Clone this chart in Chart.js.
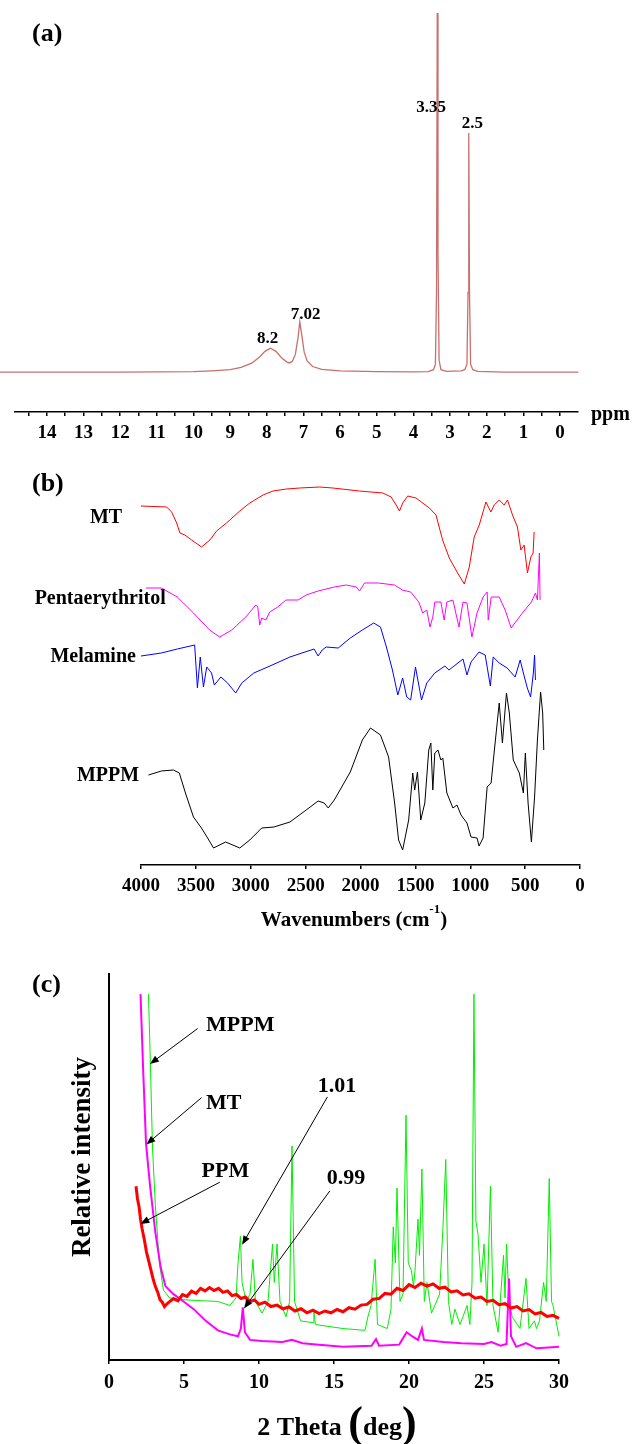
<!DOCTYPE html>
<html>
<head>
<meta charset="utf-8">
<script src="https://cdn.jsdelivr.net/npm/chart.js@4.4.1/dist/chart.umd.min.js"></script>
<style>
  html, body { margin: 0; padding: 0; background: #fff; }
  canvas { display: block; }
</style>
</head>
<body>
<canvas id="nmr" width="632" height="450"></canvas>
<canvas id="ftir" width="632" height="490"></canvas>
<canvas id="xrd" width="632" height="504"></canvas>
<script>
// ---- (a) 1H NMR ----
const nmrPpm = [15.28, 12, 10, 9.5, 9, 8.7, 8.4, 8.2, 8.05, 7.9, 7.75, 7.6, 7.45, 7.38, 7.3, 7.22, 7.15, 7.1, 7.05, 6.98, 6.9, 6.75, 6.5, 6.0, 5.0, 4.0, 3.6, 3.45, 3.4, 3.37, 3.35, 3.33, 3.3, 3.25, 3.1, 2.7, 2.6, 2.54, 2.51, 2.49, 2.47, 2.44, 2.38, 2.25, 1.5, -0.5];
const nmrInt = [10, 10, 10.1, 10.3, 10.6, 11.2, 12.3, 13.8, 15.2, 16.0, 15.2, 13.6, 12.5, 12.3, 12.7, 14.5, 18.5, 22.6, 19.5, 15, 12.8, 11.4, 10.7, 10.3, 10.1, 10.05, 10.1, 10.6, 12, 30, 100, 40, 13, 10.6, 10.2, 10.3, 10.6, 12, 30, 69.9, 30, 12, 10.6, 10.2, 10, 10];
const nmrPeakText = ['8.2', '7.02', '3.35', '2.5'];
const nmrPeakAt = [7.98, 6.94, 3.52, 2.39];
const nmrPeakH = [18.5, 24.3, 76.2, 72.2];

// ---- (b) FTIR ----
const ftirTicks = [4000, 3500, 3000, 2500, 2000, 1500, 1000, 500, 0];
const mtWn = [4000, 3766, 3721, 3675, 3645, 3600, 3539, 3448, 3372, 3311, 3221, 3100, 3009, 2963, 2888, 2797, 2675, 2554, 2372, 2252, 2009, 1797, 1721, 1675, 1645, 1615, 1570, 1494, 1373, 1312, 1252, 1191, 1115, 1054, 1009, 964, 918, 857, 812, 782, 736, 691, 661, 615, 570, 539, 509, 479, 448, 427, 418];
const mtT = [359, 358, 353, 342, 332, 330, 325, 318, 325, 334, 342, 354, 362, 365, 370, 374, 376, 377, 378, 377, 374, 372, 368, 360, 354, 362, 369, 367, 357, 350, 325, 307, 292, 281, 298, 328, 340, 363, 353, 360, 365, 360, 365, 350, 338, 315, 320, 292, 308, 312, 333];
const peWn = [3954, 3815, 3669, 3522, 3375, 3283, 3173, 3045, 2954, 2936, 2918, 2900, 2863, 2827, 2754, 2679, 2569, 2495, 2386, 2239, 2129, 2037, 2009, 1963, 1836, 1691, 1618, 1543, 1469, 1433, 1396, 1367, 1341, 1323, 1268, 1238, 1213, 1158, 1103, 1066, 1030, 985, 938, 883, 846, 836, 809, 736, 682, 627, 573, 518, 443, 406, 388, 370, 364];
const peT = [277, 277, 268, 252, 235, 228, 235, 248, 260, 258, 240, 247, 245, 253, 258, 265, 265, 270, 274, 278, 280, 278, 274, 282, 282, 280, 275, 273, 263, 252, 255, 238, 248, 263, 263, 245, 263, 265, 238, 263, 262, 228, 252, 268, 273, 245, 268, 268, 255, 237, 245, 253, 263, 272, 265, 312, 265];
const melWn = [4000, 3815, 3669, 3511, 3486, 3460, 3431, 3401, 3357, 3332, 3272, 3211, 3137, 3082, 2972, 2825, 2643, 2423, 2386, 2349, 2313, 2203, 2093, 1983, 1880, 1818, 1764, 1709, 1660, 1616, 1579, 1543, 1499, 1444, 1396, 1323, 1231, 1194, 1066, 1030, 993, 920, 864, 817, 791, 736, 664, 591, 545, 516, 480, 450, 425, 414, 406];
const melT = [209, 212, 216, 220, 177, 208, 178, 198, 192, 180, 188, 182, 172, 182, 192, 199, 208, 216, 209, 215, 218, 217, 227, 235, 242, 238, 218, 195, 170, 187, 168, 165, 198, 165, 182, 192, 199, 195, 206, 190, 203, 213, 210, 179, 208, 202, 197, 188, 205, 192, 177, 168, 192, 210, 185];
const mppmWn = [3932, 3815, 3705, 3651, 3595, 3522, 3449, 3393, 3339, 3229, 3100, 3009, 2900, 2789, 2643, 2495, 2386, 2331, 2294, 2239, 2093, 1983, 1909, 1818, 1744, 1689, 1653, 1616, 1561, 1524, 1506, 1481, 1451, 1414, 1378, 1359, 1341, 1323, 1294, 1268, 1250, 1213, 1158, 1121, 1084, 1030, 993, 938, 920, 883, 846, 810, 780, 736, 707, 670, 644, 608, 553, 516, 498, 473, 443, 414, 388, 359, 340, 330];
const mppmT = [90, 94, 95, 92, 72, 48, 37, 27, 17, 23, 17, 25, 37, 38, 43, 55, 64, 62, 57, 65, 93, 125, 137, 130, 108, 62, 25, 15, 45, 92, 75, 93, 45, 62, 115, 122, 75, 112, 115, 105, 107, 72, 57, 60, 50, 42, 28, 27, 19, 27, 78, 82, 115, 162, 122, 172, 152, 105, 92, 72, 112, 62, 23, 68, 125, 173, 152, 115];

// ---- (c) XRD ----
const xrdTicks = [0, 5, 10, 15, 20, 25, 30];
const ppmX = [1.8, 1.9, 2.0, 2.1, 2.2, 2.35, 2.5, 2.65, 2.8, 2.95, 3.1, 3.25, 3.4, 3.55, 3.7, 3.85, 4.0, 4.3, 4.6, 4.9, 5.2, 5.5, 5.8, 6.1, 6.4, 6.7, 7.0, 7.3, 7.6, 7.9, 8.2, 8.5, 8.8, 9.1, 9.4, 9.7, 10.0, 10.4, 10.8, 11.2, 11.6, 12.0, 12.4, 12.8, 13.2, 13.6, 14.0, 14.4, 14.8, 15.2, 15.6, 16.0, 16.4, 16.8, 17.2, 17.6, 18.0, 18.4, 18.8, 19.2, 19.6, 20.0, 20.4, 20.8, 21.2, 21.6, 22.0, 22.4, 22.8, 23.2, 23.6, 24.0, 24.4, 24.8, 25.2, 25.6, 26.0, 26.4, 26.8, 27.2, 27.6, 28.0, 28.4, 28.8, 29.2, 29.6, 30.0];
const ppmI = [47.5, 44, 42, 38.5, 36, 33, 29.5, 27, 24.5, 22, 20, 18.5, 16.5, 15.8, 14.6, 15.3, 15.8, 16.8, 16.2, 17.9, 17.4, 18.8, 18.2, 19.6, 18.9, 19.8, 19.0, 19.6, 18.5, 18.9, 17.6, 17.9, 16.8, 17.2, 16.0, 16.4, 15.2, 15.8, 14.6, 15.0, 14.0, 14.5, 13.4, 14.0, 12.9, 13.6, 12.7, 13.4, 12.9, 13.8, 13.2, 14.3, 13.9, 15.0, 15.2, 16.6, 16.8, 18.2, 18.0, 19.6, 19.0, 20.6, 19.8, 21.0, 20.2, 20.8, 19.6, 19.9, 18.6, 18.9, 17.8, 18.1, 16.9, 17.2, 16.0, 16.3, 15.1, 15.4, 14.2, 14.6, 13.4, 13.8, 12.6, 13.0, 11.9, 12.2, 11.4];
const mtX = [2.1, 2.28, 2.47, 2.74, 3.09, 3.44, 3.76, 4.3, 4.97, 5.65, 6.45, 7.26, 8.06, 8.6, 8.79, 8.92, 9.06, 9.4, 10.2, 11.56, 12.2, 12.9, 14.0, 15.6, 17.5, 17.8, 18.0, 19.35, 19.84, 20.2, 20.6, 20.86, 21.0, 22.3, 23.5, 25.0, 25.5, 26.1, 26.5, 26.67, 26.8, 27.15, 27.8, 28.5, 29.3, 30];
const mtI = [100, 79, 59, 47.5, 34.9, 25.4, 20.2, 18, 16, 13.9, 10.7, 8.1, 7, 6.5, 8.6, 14.4, 7.6, 5.5, 5.2, 4.9, 5.5, 4.6, 4.2, 3.6, 3.9, 5.7, 3.9, 4.2, 7.6, 6.5, 5.5, 8.6, 5.5, 4.9, 4.6, 4.4, 4.9, 3.9, 4.4, 22.3, 6.5, 3.6, 4.6, 3.2, 3.4, 3.6];
const mppmX = [2.63, 2.74, 2.9, 3.09, 3.36, 3.63, 4.03, 4.84, 6.18, 7.26, 8.06, 8.47, 8.6, 8.76, 8.87, 9.14, 9.4, 9.6, 9.76, 10.2, 10.6, 10.9, 11.02, 11.2, 11.4, 11.8, 12.04, 12.2, 12.37, 12.77, 13.6, 13.66, 13.76, 15.6, 17.07, 17.26, 17.47, 17.74, 17.9, 18.55, 18.8, 18.95, 19.09, 19.2, 19.4, 19.6, 19.8, 19.95, 20.16, 20.3, 20.4, 20.6, 20.7, 20.86, 21.02, 21.2, 21.5, 22.04, 22.26, 22.45, 22.63, 22.85, 23.06, 23.4, 23.87, 24.06, 24.2, 24.33, 24.46, 24.6, 24.8, 25, 25.2, 25.43, 25.6, 25.94, 26.3, 26.4, 26.5, 26.67, 26.88, 27.4, 27.8, 28, 28.36, 28.5, 28.7, 28.97, 29.15, 29.35, 29.5, 29.6, 30];
const mppmI = [100, 84, 58, 42.2, 26.5, 19.1, 17, 16.5, 16.2, 16, 14.9, 17, 26.5, 33.8, 21.2, 16, 18, 27.5, 16, 12.8, 16, 31.7, 21.2, 31.7, 16, 11.8, 16, 58.5, 16, 10.7, 10.2, 13.3, 9.7, 8.6, 8.1, 11.8, 14.9, 27.5, 9.7, 8.6, 13.9, 36.4, 26.5, 47, 16, 18, 66.9, 26.5, 24.4, 20.2, 24.4, 38.5, 28.6, 52.2, 16, 21.2, 12.8, 18, 35.9, 54.8, 16, 9.7, 13.9, 9.7, 14.9, 9.7, 21.2, 100, 38, 34.3, 21.2, 31.7, 14.9, 47.5, 14.9, 7.6, 28.6, 17, 31.7, 16, 11.8, 8.6, 22.3, 8.6, 10.7, 8.6, 10.7, 21.2, 16, 49.6, 16, 14.9, 6.5];

const SERIF = '"Liberation Serif", "Times New Roman", serif';
const pts = (xs, ys) => xs.map((x, i) => ({ x: x, y: ys[i] }));
const line = (data, color, w) => ({ data: data, borderColor: color, borderWidth: w, pointRadius: 0, tension: 0, fill: false, clip: false });

function text(ctx, s, x, y, size, align) {
  ctx.save();
  ctx.font = 'bold ' + size + 'px ' + SERIF;
  ctx.fillStyle = '#000';
  ctx.textAlign = align || 'center';
  ctx.textBaseline = 'middle';
  ctx.fillText(s, x, y);
  ctx.restore();
}

function arrow(ctx, x1, y1, x2, y2) {
  const a = Math.atan2(y2 - y1, x2 - x1), L = 9, W = 3.5;
  ctx.save();
  ctx.strokeStyle = '#000';
  ctx.fillStyle = '#000';
  ctx.lineWidth = 1;
  ctx.beginPath();
  ctx.moveTo(x1, y1);
  ctx.lineTo(x2 - 0.8 * L * Math.cos(a), y2 - 0.8 * L * Math.sin(a));
  ctx.stroke();
  ctx.beginPath();
  ctx.moveTo(x2, y2);
  ctx.lineTo(x2 - L * Math.cos(a) + W * Math.sin(a), y2 - L * Math.sin(a) - W * Math.cos(a));
  ctx.lineTo(x2 - L * Math.cos(a) - W * Math.sin(a), y2 - L * Math.sin(a) + W * Math.cos(a));
  ctx.closePath();
  ctx.fill();
  ctx.restore();
}

function xAxis(extra) {
  return Object.assign({
    type: 'linear',
    grid: { drawOnChartArea: false, tickLength: 4, color: '#000', lineWidth: 1.5 },
    border: { color: '#000', width: 1.5 },
    ticks: { autoSkip: false, maxRotation: 0, padding: 6, color: '#000',
      font: { family: SERIF, size: 19, weight: 'bold' }, callback: v => String(v) }
  }, extra);
}
const baseOpts = {
  responsive: false, animation: false, devicePixelRatio: 1,
  plugins: { legend: { display: false }, tooltip: { enabled: false } }
};

// (a)
const axA = xAxis({ reverse: true, min: -0.49, max: 14.87, afterFit: s => { s.height = 38; } });
axA.ticks = Object.assign({}, axA.ticks, {
  stepSize: 0.5, includeBounds: false,
  callback: v => Math.abs(v - Math.round(v)) < 1e-6 ? String(Math.round(v)) : ''
});
new Chart(document.getElementById('nmr'), {
  type: 'line',
  data: { datasets: [line(pts(nmrPpm, nmrInt), '#c96f6f', 1.3)] },
  options: Object.assign({}, baseOpts, {
    layout: { padding: { left: 15, right: 54, top: 13, bottom: 0 } },
    scales: { x: axA, y: { display: false, min: 0, max: 100 } }
  }),
  plugins: [{
    id: 'notesA',
    afterDraw(c) {
      const ctx = c.ctx, sx = c.scales.x, sy = c.scales.y;
      text(ctx, '(a)', 32, 34, 26, 'left');
      text(ctx, 'ppm', c.chartArea.right + 13, c.chartArea.bottom + 3, 20, 'left');
      nmrPeakText.forEach((t, i) => text(ctx, t, sx.getPixelForValue(nmrPeakAt[i]), sy.getPixelForValue(nmrPeakH[i]), 17));
    }
  }]
});

// (b)
const ftirNames = ['MT', 'Pentaerythritol', 'Melamine', 'MPPM'];
const ftirNameAt = [[4318, 347], [4372, 266], [4436, 208], [4300, 89]];
new Chart(document.getElementById('ftir'), {
  type: 'line',
  data: { datasets: [
    line(pts(mtWn, mtT), '#ff0000', 1),
    line(pts(peWn, peT), '#ff00ff', 1),
    line(pts(melWn, melT), '#0000ff', 1),
    line(pts(mppmWn, mppmT), '#000000', 1)
  ] },
  options: Object.assign({}, baseOpts, {
    layout: { padding: { left: 141, right: 52, top: 20, bottom: 0 } },
    scales: {
      x: xAxis({ reverse: true, min: 0, max: 4000,
        afterBuildTicks: s => { s.ticks = ftirTicks.map(v => ({ value: v })); },
        afterFit: s => { s.height = 75; } }),
      y: { display: false, min: 0, max: 395 }
    }
  }),
  plugins: [{
    id: 'notesB',
    afterDraw(c) {
      const ctx = c.ctx, sx = c.scales.x, sy = c.scales.y;
      text(ctx, '(b)', 32, 34, 26, 'left');
      ftirNames.forEach((n, i) => text(ctx, n, sx.getPixelForValue(ftirNameAt[i][0]), sy.getPixelForValue(ftirNameAt[i][1]), 20));
      // axis title with superscript
      ctx.save();
      const f1 = 'bold 21px ' + SERIF, f2 = 'bold 13px ' + SERIF;
      ctx.font = f1; const w1 = ctx.measureText('Wavenumbers (cm').width, w3 = ctx.measureText(')').width;
      ctx.font = f2; const w2 = ctx.measureText('-1').width;
      let x = 354 - (w1 + w2 + w3) / 2;
      const y = c.chartArea.bottom + 56;
      ctx.restore();
      text(ctx, 'Wavenumbers (cm', x, y, 21, 'left'); x += w1;
      text(ctx, '-1', x, y - 11, 13, 'left'); x += w2;
      text(ctx, ')', x, y, 21, 'left');
    }
  }]
});

// (c)
const xrdNotes = [
  { t: 'MPPM', x: 6.47, y: 91.5, from: [5.91, 90.6], to: [2.73, 80.9] },
  { t: 'MT', x: 6.47, y: 70.2, from: [6.17, 71.7], to: [2.49, 58.9] },
  { t: 'PPM', x: 6.17, y: 51.5, from: [7.39, 48.6], to: [2.09, 37.2] }
];
const xrdPeaks = [
  { t: '1.01', x: 15.2, y: 74.9, from: [14.56, 71.9], to: [8.87, 31.5] },
  { t: '0.99', x: 15.8, y: 49.6, from: [14.72, 46.2], to: [9.0, 14.1] }
];
const axC = xAxis({ min: 0, max: 30,
  afterBuildTicks: s => { s.ticks = xrdTicks.map(v => ({ value: v })); },
  afterFit: s => { s.height = 84; } });
axC.ticks = Object.assign({}, axC.ticks, { padding: 7, font: { family: SERIF, size: 20, weight: 'bold' } });
axC.border = { color: '#000', width: 2 };
new Chart(document.getElementById('xrd'), {
  type: 'line',
  data: { datasets: [
    line(pts(ppmX, ppmI), '#ff0000', 3),
    line(pts(mtX, mtI), '#ff00ff', 2),
    line(pts(mppmX, mppmI), '#00ee00', 1)
  ] },
  options: Object.assign({}, baseOpts, {
    layout: { padding: { left: 0, right: 73, top: 34, bottom: 0 } },
    scales: {
      x: axC,
      y: { min: 0, max: 105.5, afterFit: s => { s.width = 109; },
        ticks: { display: false }, grid: { display: false },
        border: { display: true, color: '#000', width: 2 } }
    }
  }),
  plugins: [{
    id: 'notesC',
    afterDraw(c) {
      const ctx = c.ctx, sx = c.scales.x, sy = c.scales.y;
      const px = v => sx.getPixelForValue(v), py = v => sy.getPixelForValue(v);
      text(ctx, '(c)', 32, 45, 26, 'left');
      xrdNotes.forEach(n => {
        text(ctx, n.t, px(n.x), py(n.y), 22, 'left');
        arrow(ctx, px(n.from[0]), py(n.from[1]), px(n.to[0]), py(n.to[1]));
      });
      xrdPeaks.forEach(n => {
        text(ctx, n.t, px(n.x), py(n.y), 22);
        arrow(ctx, px(n.from[0]), py(n.from[1]), px(n.to[0]), py(n.to[1]));
      });
      // y title
      ctx.save();
      ctx.translate(83, 217);
      ctx.rotate(-Math.PI / 2);
      text(ctx, 'Relative intensity', 0, 0, 27);
      ctx.restore();
      // x title with enlarged brackets
      ctx.save();
      const fa = 'bold 26px ' + SERIF, fb = 'bold 44px ' + SERIF;
      ctx.font = fa; const wa = ctx.measureText('2 Theta ').width, wd = ctx.measureText('deg').width;
      ctx.font = fb; const wp = ctx.measureText('(').width;
      ctx.restore();
      let x = 337 - (wa + wd + 2 * wp) / 2;
      const y = c.chartArea.bottom + 68;
      text(ctx, '2 Theta ', x, y, 26, 'left'); x += wa;
      text(ctx, '(', x, y - 2, 44, 'left'); x += wp;
      text(ctx, 'deg', x, y, 26, 'left'); x += wd;
      text(ctx, ')', x, y - 2, 44, 'left');
    }
  }]
});
</script>
</body>
</html>
